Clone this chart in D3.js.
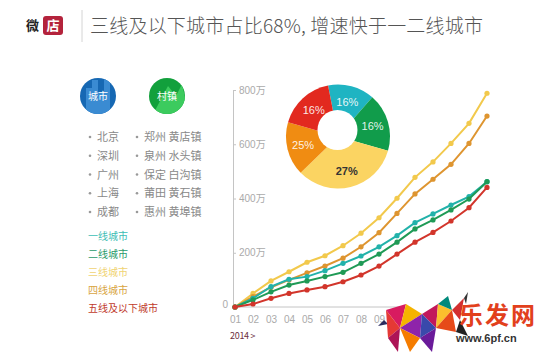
<!DOCTYPE html>
<head>
<meta charset='utf-8'>
<title>三线及以下城市占比</title>
<script src='https://cdn.jsdelivr.net/npm/d3@7/dist/d3.min.js'></script>
<style>
  html, body { margin: 0; padding: 0; background: #fff; }
  svg { display: block; font-family: 'Noto Sans CJK SC', 'Noto Sans', sans-serif; }
  .ax text { fill: #aaa; font-size: 10px; font-family: 'Liberation Sans', 'Noto Sans CJK SC', sans-serif; }
  .ax path, .ax line { stroke: #c4c4c4; }
</style>
</head>
<body>
<div id='chart'></div>
<script>
// months (2014-01 .. 2015-03)
var xLabels = ['01','02','03','04','05','06','07','08','09','10','11','12','01','02','03'];

// 万 users
var tier1 = [0, 32, 75, 102, 112, 134, 161, 188, 222, 263, 311, 343, 376, 407, 462];
var tier2 = [0, 26, 56, 81, 96, 112, 128, 161, 195, 239, 288, 321, 358, 398, 462];
var tier3 = [0, 50, 96, 130, 165, 189, 226, 272, 329, 401, 478, 535, 603, 677, 788];
var tier4 = [0, 38, 73, 100, 126, 151, 180, 222, 274, 345, 417, 471, 526, 603, 704];
var tier5 = [0, 11, 32, 50, 63, 75, 93, 118, 151, 195, 239, 275, 317, 366, 441];

var seriesNames = ['一线城市', '二线城市', '三线城市', '四线城市', '五线及以下城市'];
var seriesColors = ['#22b2aa', '#1f9a56', '#f2c94c', '#de9530', '#d2352b'];
var legendColors = ['#3dbdb4', '#2a9a6a', '#f0d372', '#d8a441', '#c0392b'];

var yTicks = [200, 400, 600, 800];

// donut: printed labels and the slice sizes as actually drawn
var sliceLabels = ['16%', '16%', '27%', '25%', '16%'];
var sliceDrawn = [14.5, 18, 33.3, 16.7, 17.5];
var sliceColors = ['#1fb4c2', '#119c4b', '#fbd462', '#f08c12', '#e2291f'];

var cities = ['北京', '深圳', '广州', '上海', '成都'];
var towns = ['郑州 黄店镇', '泉州 水头镇', '保定 白沟镇', '莆田 黄石镇', '惠州 黄埠镇'];

var W = 550, H = 363;
var svg = d3.select('#chart').append('svg').attr('width', W).attr('height', H);

// ---- header
svg.append('text').attr('x', 26).attr('y', 30)
    .attr('font-size', 13).attr('font-weight', 'bold').attr('fill', '#222').text('微');
svg.append('rect').attr('x', 43).attr('y', 16).attr('width', 20).attr('height', 19)
    .attr('rx', 3).attr('fill', '#b4233c');
svg.append('text').attr('x', 53).attr('y', 30).attr('text-anchor', 'middle')
    .attr('font-size', 13).attr('font-weight', 'bold').attr('fill', '#fff').text('店');
svg.append('line').attr('x1', 82).attr('x2', 82).attr('y1', 10).attr('y2', 42)
    .attr('stroke', '#d4d4d4');
svg.append('text').attr('x', 90).attr('y', 33)
    .attr('font-size', 19).attr('fill', '#555').attr('font-weight', 300)
    .attr('textLength', 393).text('三线及以下城市占比68%, 增速快于一二线城市');

// ---- left panel: icons
var defs = svg.append('defs');
function badge(cx, cy, base, light, label, id, shape) {
  defs.append('clipPath').attr('id', id).append('circle')
      .attr('cx', cx).attr('cy', cy).attr('r', 18);
  var g = svg.append('g');
  g.append('circle').attr('cx', cx).attr('cy', cy).attr('r', 18).attr('fill', base);
  g.append('path').attr('clip-path', 'url(#' + id + ')').attr('fill', light)
      .attr('d', shape);
  g.append('text').attr('x', cx).attr('y', cy + 4).attr('text-anchor', 'middle')
      .attr('font-size', 10).attr('fill', '#fff').text(label);
}
badge(98, 96, '#1668b3', '#3a8bd2', '城市', 'cpA',
  'M86,120 L86,88 L92,88 L92,80 L98,80 L98,92 L104,92 L104,76 L110,76 L110,120 Z');
badge(167, 96, '#12a03c', '#3ccb5e', '村镇', 'cpB',
  'M150,120 L168,86 L176,96 L182,84 L190,120 Z');

// bullet lists
var rowY = d3.scaleLinear().domain([0, 4]).range([141, 216]);
function bulletList(items, bx) {
  var g = svg.append('g');
  g.selectAll('circle').data(items).join('circle')
      .attr('cx', bx).attr('cy', (d, i) => rowY(i) - 4).attr('r', 1.3).attr('fill', '#999');
  g.selectAll('text').data(items).join('text')
      .attr('x', bx + 7).attr('y', (d, i) => rowY(i))
      .attr('font-size', 11).attr('fill', '#888').text(d => d);
}
bulletList(cities, 90);
bulletList(towns, 137);

// legend
var legY = d3.scaleLinear().domain([0, 4]).range([239.5, 311.5]);
svg.append('g').selectAll('text').data(seriesNames).join('text')
    .attr('x', 88).attr('y', (d, i) => legY(i))
    .attr('font-size', 10).attr('fill', (d, i) => legendColors[i]).text(d => d);

// ---- line chart
var x = d3.scaleLinear().domain([0, xLabels.length - 1]).range([235, 487]);
var y = d3.scaleLinear().domain([0, 800]).range([307, 90]);

// labels past 09 sit under the watermark
var shownTicks = d3.range(xLabels.length).filter(i => x(i) < 390);
svg.append('g').attr('class', 'ax')
    .attr('transform', 'translate(0,' + y(0) + ')')
    .call(d3.axisBottom(x).tickValues(shownTicks)
        .tickFormat(i => xLabels[i]).tickSize(0).tickPadding(9))
    .select('.domain').attr('d', 'M233,0H500');

svg.append('g').attr('class', 'ax')
    .attr('transform', 'translate(233,0)')
    .call(d3.axisRight(y).tickValues(yTicks).tickSize(3).tickSizeOuter(0)
        .tickPadding(3).tickFormat(d => d + '万'))
    .selectAll('text').attr('font-family', "'Liberation Sans', 'Noto Sans CJK SC'");

svg.append('text').attr('x', 228).attr('y', y(0) + 1).attr('text-anchor', 'end')
    .attr('font-size', 10).attr('fill', '#aaa').attr('font-family', 'Liberation Sans')
    .text('0');

svg.append('text').attr('x', 230).attr('y', 339).attr('font-size', 9)
    .attr('fill', '#6e3040').attr('letter-spacing', -0.3).text('2014 >');

var series = [tier3, tier4, tier1, tier2, tier5];
var seriesIdx = [2, 3, 0, 1, 4];
var line = d3.line().x((d, i) => x(i)).y(d => y(d));

series.forEach(function(s, k) {
  var c = seriesColors[seriesIdx[k]];
  var g = svg.append('g');
  g.append('path').attr('d', line(s)).attr('fill', 'none')
      .attr('stroke', c).attr('stroke-width', 2);
  g.selectAll('circle').data(s).join('circle')
      .attr('cx', (d, i) => x(i)).attr('cy', d => y(d)).attr('r', 2.6).attr('fill', c);
});

// ---- donut
var pie = d3.pie().sort(null).value(d => d)
    .startAngle(-11 * Math.PI / 180).endAngle(349 * Math.PI / 180);
var arcs = pie(sliceDrawn);
var cx = 338, cy = 136.5;
var arc = d3.arc().innerRadius(0).outerRadius(52);
var labelArc = d3.arc().innerRadius(21).outerRadius(51);
var dg = svg.append('g').attr('transform', 'translate(' + cx + ',' + cy + ')');
dg.selectAll('path').data(arcs).join('path')
    .attr('d', arc).attr('fill', (d, i) => sliceColors[i]);
dg.append('circle').attr('cx', -0.5).attr('cy', -6.5).attr('r', 20).attr('fill', '#fff');
dg.selectAll('text').data(arcs).join('text')
    .attr('transform', d => 'translate(' + labelArc.centroid(d) + ')')
    .attr('text-anchor', 'middle').attr('dy', '0.35em')
    .attr('font-size', 11).attr('font-family', 'Liberation Sans')
    .attr('fill', (d, i) => i === 2 ? '#333' : '#fff')
    .attr('fill-opacity', (d, i) => i === 2 ? 1 : 0.9)
    .attr('font-weight', (d, i) => i === 2 ? 'bold' : 'normal')
    .text((d, i) => sliceLabels[i]);

// ---- watermark (bottom right)
var wm = svg.append('g');
wm.append('rect').attr('x', 400).attr('y', 296).attr('width', 150).attr('height', 67).attr('fill', '#fff');
var ele = wm.append('g').attr('transform', 'translate(376,298)');
var shards = [
  ['M2,28 L8,22 L12,26 Z', '#2b2b5e'],
  ['M10,12 L30,6 L24,30 Z', '#d81b60'],
  ['M24,30 L30,6 L46,16 Z', '#f5b400'],
  ['M24,30 L46,16 L44,40 Z', '#8e24aa'],
  ['M10,12 L24,30 L12,40 Z', '#e53935'],
  ['M12,40 L24,30 L22,54 Z', '#ad1457'],
  ['M24,30 L44,40 L34,54 Z', '#f57c00'],
  ['M46,16 L62,6 L60,30 Z', '#c2185b'],
  ['M44,40 L46,16 L60,30 Z', '#3949ab'],
  ['M60,30 L62,6 L76,12 Z', '#fbc02d'],
  ['M60,30 L76,12 L80,34 Z', '#e64a19'],
  ['M44,40 L60,30 L56,54 Z', '#6a1b9a'],
  ['M62,6 L72,-2 L76,12 Z', '#00897b'],
  ['M76,12 L88,0 L84,22 Z', '#d32f2f'],
  ['M80,34 L84,22 L92,38 Z', '#212121'],
  ['M88,0 L92,-6 L90,6 Z', '#333']
];
ele.selectAll('path').data(shards).join('path')
    .attr('d', d => d[0]).attr('fill', d => d[1]);
wm.append('text').attr('x', 459).attr('y', 324).attr('font-size', 24)
    .attr('font-weight', 'bold').attr('fill', '#e2401c').attr('letter-spacing', 2)
    .attr('font-family', "'Noto Sans CJK SC'").text('乐发网');
wm.append('text').attr('x', 456).attr('y', 342).attr('font-size', 11)
    .attr('font-weight', 'bold').attr('fill', '#333').attr('font-family', 'Liberation Sans')
    .text('www.6pf.cn');
</script>
</body>
